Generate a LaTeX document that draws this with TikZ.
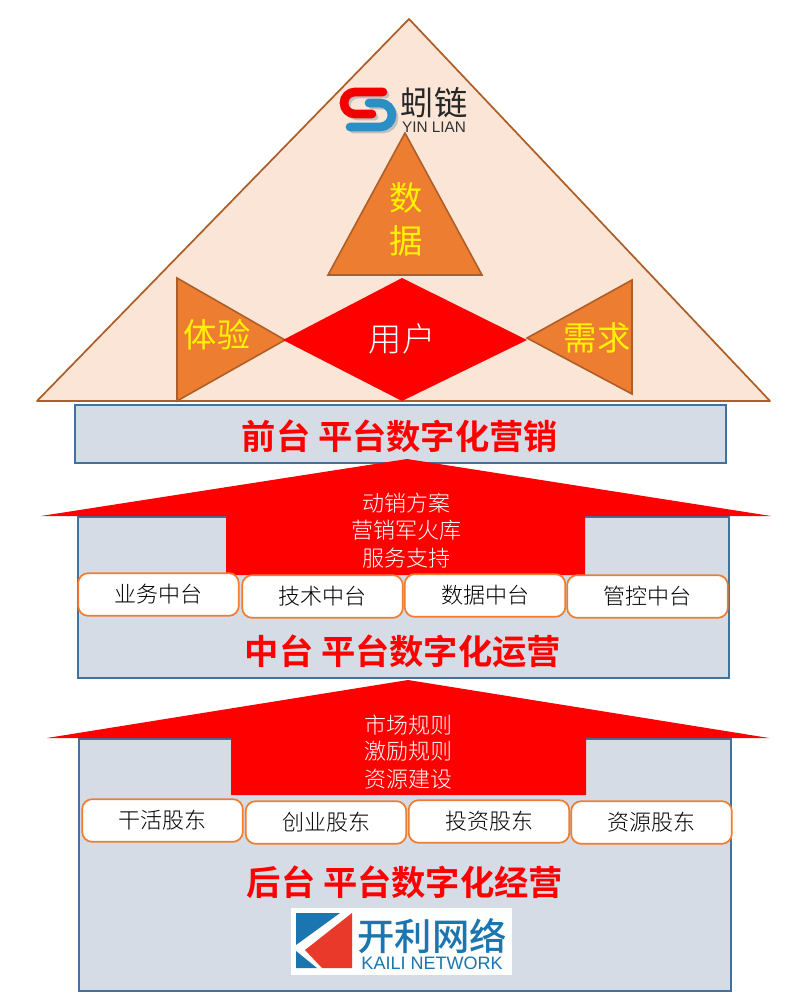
\documentclass[tikz,border=0pt]{standalone}
\usepackage{fontspec}
\setmainfont{Liberation Sans}
\newfontfamily\cjk{Noto Sans CJK SC}[BoldFont={Noto Sans CJK SC Bold}]
\newfontfamily\cjklight{Noto Sans CJK SC Light}
\newfontfamily\cjkmedium{Noto Sans CJK SC Medium}
\definecolor{peach}{HTML}{FBE5D6}
\definecolor{brownline}{HTML}{AE5F28}
\definecolor{slatefill}{HTML}{D6DCE5}
\definecolor{blueline}{HTML}{41719C}
\definecolor{orangefill}{HTML}{ED7D31}
\definecolor{logoblue}{HTML}{2A8FC4}
\definecolor{kailiblue}{HTML}{1B75AE}
\definecolor{kailired}{HTML}{E8392A}
\tikzset{
  panel/.style={draw=blueline,line width=1.4pt,fill=slatefill},
  tri/.style={draw=brownline,line width=1.2pt,fill=orangefill},
  upshape/.style={fill=red,draw=none},
  chip/.style={draw=orangefill,line width=1.3pt,fill=white,rounded corners=7.5pt,minimum width=120.5pt,minimum height=32pt,inner sep=0pt,font=\cjklight\fontsize{16.5}{16.5}\selectfont,text=black},
  headline/.style={font=\cjk\bfseries\fontsize{25.7}{25.7}\selectfont,text=red,inner sep=0pt},
  arrowtext/.style={font=\cjklight\fontsize{16.5}{16.5}\selectfont,text=white,inner sep=0pt},
  bigy/.style={font=\cjk\fontsize{25}{25}\selectfont,text=yellow,inner sep=0pt},
}
\begin{document}
\begin{tikzpicture}[x=0.75pt,y=-0.75pt]
\useasboundingbox (0,0) rectangle (800,1002);
\fill[white] (0,0) rectangle (800,1002);
% roof
\draw[draw=brownline,line width=1.3pt,fill=peach,line join=round] (409,19) -- (770,401) -- (37,401) -- cycle;
% top logo
\draw[black!25,line width=5pt,line cap=round] (386,95) -- (358,95) arc[start angle=270,end angle=90,radius=11] -- (375,117);
\draw[black!25,line width=5pt,line cap=round] (372,106) -- (383,106) arc[start angle=-90,end angle=90,radius=12] -- (353,130);
\draw[red!95!black,line width=6.5pt,line cap=round] (383,92) -- (355,92) arc[start angle=270,end angle=90,radius=11] -- (372,114);
\draw[logoblue,line width=6.5pt,line cap=round] (369,103) -- (380,103) arc[start angle=-90,end angle=90,radius=12] -- (350,127);
\node[inner sep=0pt,text=black!85,font=\cjk\fontsize{25}{25}\selectfont] (logotitle) at (434,103) {蚓链};
\node[inner sep=0pt,text=black!80,font=\fontsize{11.5}{11.5}\selectfont] (logosub) at (434,127) {YIN LIAN};
% inner shapes
\draw[tri] (405,133) -- (482,275) -- (328,275) -- cycle;
\draw[tri] (177,278) -- (285,340) -- (177,401) -- cycle;
\draw[tri] (632,280) -- (527,338) -- (632,394) -- cycle;
\fill[red] (402,278) -- (527,340) -- (402,401) -- (283,340) -- cycle;
\node[bigy] (shu) at (406,198) {数};
\node[bigy] (ju) at (406,241) {据};
\node[bigy] (tiyan) at (217,335) {体验};
\node[bigy] (xuqiu) at (597,338) {需求};
\node[bigy,text=white,font=\cjklight\fontsize{25}{25}\selectfont] (yonghu) at (402,339) {用户};
% front panel
\draw[panel] (75,405) rectangle (726,463);
\node[headline] (front) at (400,436) {前台 平台数字化营销};
% middle panel
\draw[panel] (78,517) rectangle (729,678);
\fill[upshape] (407,459) -- (771,516) -- (585,516) -- (585,575) -- (226,575) -- (226,516) -- (41,516) -- cycle;
\node[arrowtext] (ma) at (406,503) {动销方案};
\node[arrowtext] (mb) at (406,530) {营销军火库};
\node[arrowtext] (mc) at (406,558) {服务支持};
\node[chip] (c1) at (158.5,594.5) {业务中台};
\node[chip] (c2) at (322.5,596.5) {技术中台};
\node[chip] (c3) at (485,595.5) {数据中台};
\node[chip] (c4) at (647.5,596.5) {管控中台};
\node[headline] (middle) at (403,651) {中台 平台数字化运营};
% back panel
\draw[panel] (79,739) rectangle (731,991);
\fill[upshape] (408,680) -- (769,738) -- (586,738) -- (586,795) -- (231,795) -- (231,738) -- (47,738) -- cycle;
\node[arrowtext] (ba) at (408,725) {市场规则};
\node[arrowtext] (bb) at (408,751) {激励规则};
\node[arrowtext] (bc) at (408,779) {资源建设};
\node[chip] (d1) at (162.5,820.5) {干活股东};
\node[chip] (d2) at (326,822.5) {创业股东};
\node[chip] (d3) at (489,821.5) {投资股东};
\node[chip] (d4) at (651.5,822.5) {资源股东};
\node[headline] (back) at (405,882) {后台 平台数字化经营};
% kaili logo
\fill[white!96!slatefill] (291,908) rectangle (512,975);
\fill[kailiblue] (296,913) -- (340,913) -- (296,945) -- cycle;
\fill[kailiblue] (296,951) -- (317,968) -- (296,968) -- cycle;
\fill[kailired] (352,913) -- (352,968) -- (322,968) -- (305,950) -- cycle;
\node[inner sep=0pt,text=kailiblue,font=\cjkmedium\fontsize{28}{28}\selectfont] (kailicn) at (432,936) {开利网络};
\node[inner sep=0pt,text=kailiblue,font=\fontsize{13.5}{13.5}\selectfont] (kailien) at (432,963) {KAILI NETWORK};
\end{tikzpicture}
\end{document}
